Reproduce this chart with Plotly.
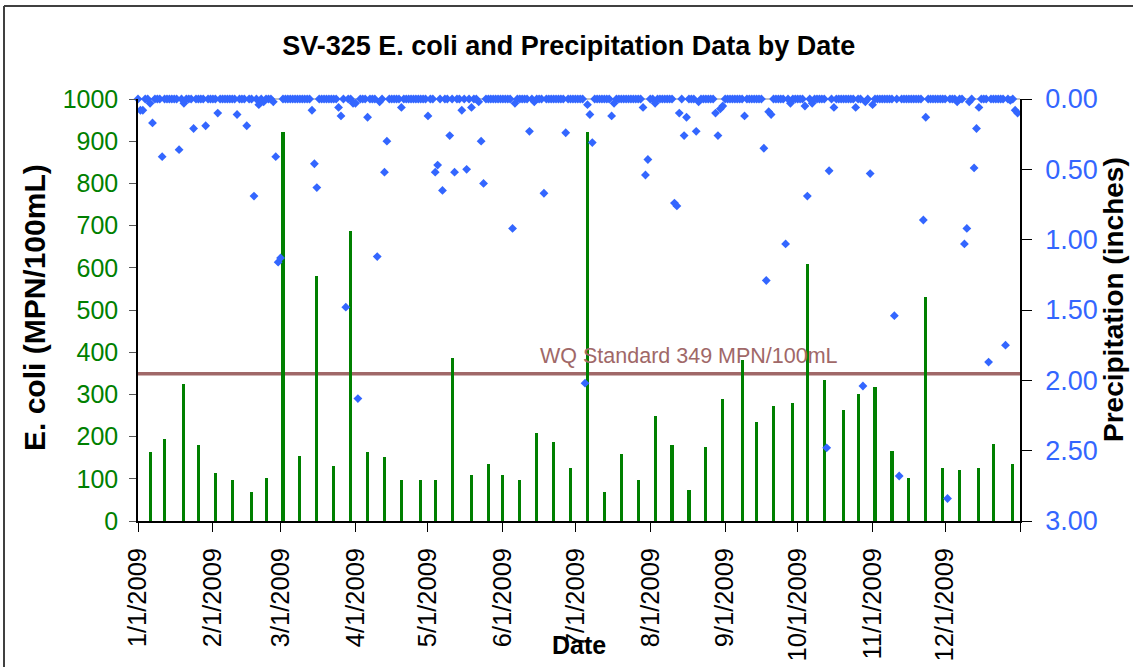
import plotly.graph_objects as go
import pandas as pd

# ---------------- data ----------------
ecoli_dates = ["2009-01-06", "2009-01-12", "2009-01-20", "2009-01-26", "2009-02-02", "2009-02-09",
               "2009-02-17", "2009-02-23", "2009-03-02", "2009-03-09", "2009-03-16", "2009-03-23",
               "2009-03-30", "2009-04-06", "2009-04-13", "2009-04-20", "2009-04-28", "2009-05-04",
               "2009-05-11", "2009-05-19", "2009-05-26", "2009-06-01", "2009-06-08", "2009-06-15",
               "2009-06-22", "2009-06-29", "2009-07-06", "2009-07-13", "2009-07-20", "2009-07-27",
               "2009-08-03", "2009-08-10", "2009-08-17", "2009-08-24", "2009-08-31", "2009-09-08",
               "2009-09-14", "2009-09-21", "2009-09-29", "2009-10-05", "2009-10-12", "2009-10-20",
               "2009-10-26", "2009-11-02", "2009-11-09", "2009-11-16", "2009-11-23", "2009-11-30",
               "2009-12-07", "2009-12-15", "2009-12-21", "2009-12-29"]
ecoli_values = [163, 195, 325, 179, 114, 98, 69, 102, 922, 155, 580, 130, 687, 163, 151, 98, 98, 98,
                387, 110, 135, 110, 98, 208, 187, 126, 922, 69, 159, 98, 249, 179, 73, 175, 289, 382,
                235, 272, 280, 609, 334, 264, 301, 317, 166, 101, 530, 125, 121, 125, 183, 134]

# days with measurable precipitation (all other days of 2009 plotted at 0.00)
precip_dates = ["2009-01-02", "2009-01-03", "2009-01-06", "2009-01-07", "2009-01-11", "2009-01-18",
                "2009-01-20", "2009-01-24", "2009-01-29", "2009-02-03", "2009-02-11", "2009-02-15",
                "2009-02-18", "2009-02-20", "2009-02-22", "2009-02-26", "2009-02-27", "2009-02-28",
                "2009-03-01", "2009-03-14", "2009-03-15", "2009-03-16", "2009-03-25", "2009-03-26",
                "2009-03-28", "2009-03-31", "2009-04-01", "2009-04-02", "2009-04-06", "2009-04-10",
                "2009-04-11", "2009-04-13", "2009-04-14", "2009-04-20", "2009-05-01", "2009-05-04",
                "2009-05-05", "2009-05-07", "2009-05-10", "2009-05-12", "2009-05-15", "2009-05-17",
                "2009-05-19", "2009-05-22", "2009-05-23", "2009-05-24", "2009-06-05", "2009-06-06",
                "2009-06-12", "2009-06-14", "2009-06-18", "2009-06-27", "2009-07-05", "2009-07-06",
                "2009-07-07", "2009-07-08", "2009-07-16", "2009-07-17", "2009-07-29", "2009-07-30",
                "2009-07-31", "2009-08-03", "2009-08-11", "2009-08-12", "2009-08-13", "2009-08-15",
                "2009-08-16", "2009-08-20", "2009-08-21", "2009-08-28", "2009-08-29", "2009-08-30",
                "2009-08-31", "2009-09-09", "2009-09-17", "2009-09-18", "2009-09-19", "2009-09-20",
                "2009-09-26", "2009-09-28", "2009-10-04", "2009-10-05", "2009-10-07", "2009-10-13",
                "2009-10-14", "2009-10-16", "2009-10-25", "2009-10-28", "2009-10-29", "2009-10-31",
                "2009-11-01", "2009-11-10", "2009-11-12", "2009-11-22", "2009-11-23", "2009-12-02",
                "2009-12-06", "2009-12-09", "2009-12-10", "2009-12-11", "2009-12-13", "2009-12-14",
                "2009-12-15", "2009-12-19", "2009-12-26", "2009-12-28", "2009-12-30", "2009-12-31"]
precip_values = [0.08, 0.08, 0.03, 0.17, 0.41, 0.36,
                 0.03, 0.21, 0.19, 0.10, 0.11, 0.19,
                 0.69, 0.04, 0.02, 0.02, 0.41, 1.16,
                 1.13, 0.08, 0.46, 0.63, 0.06, 0.12,
                 1.48, 0.03, 0.03, 2.13, 0.13, 1.12,
                 0.02, 0.52, 0.30, 0.06, 0.12, 0.52,
                 0.47, 0.65, 0.26, 0.52, 0.08, 0.50,
                 0.06, 0.02, 0.30, 0.60, 0.92, 0.03,
                 0.23, 0.02, 0.67, 0.24, 2.02, 0.04,
                 0.11, 0.31, 0.12, 0.03, 0.06, 0.54,
                 0.43, 0.03, 0.74, 0.76, 0.10, 0.26,
                 0.13, 0.23, 0.02, 0.10, 0.26, 0.07,
                 0.05, 0.12, 0.35, 1.29, 0.09, 0.11,
                 1.03, 0.03, 0.05, 0.69, 0.03, 2.48,
                 0.51, 0.06, 0.06, 2.04, 0.02, 0.53,
                 0.04, 1.54, 2.68, 0.86, 0.13, 2.84,
                 0.02, 1.03, 0.92, 0.02, 0.49, 0.21,
                 0.06, 1.87, 1.75, 0.01, 0.08, 0.10]

wq_standard = 349
wq_label = "WQ Standard 349 MPN/100mL"

month_ticks = ["2009-01-01", "2009-02-01", "2009-03-01", "2009-04-01", "2009-05-01", "2009-06-01",
               "2009-07-01", "2009-08-01", "2009-09-01", "2009-10-01", "2009-11-01", "2009-12-01",
               "2010-01-01"]
month_labels = ["1/1/2009", "2/1/2009", "3/1/2009", "4/1/2009", "5/1/2009", "6/1/2009",
                "7/1/2009", "8/1/2009", "9/1/2009", "10/1/2009", "11/1/2009", "12/1/2009", ""]

left_ticks = [0, 100, 200, 300, 400, 500, 600, 700, 800, 900, 1000]
right_ticks = [0, 0.5, 1.0, 1.5, 2.0, 2.5, 3.0]

# daily precipitation series for 2009
lookup = dict(zip(precip_dates, precip_values))
all_days = [d.strftime("%Y-%m-%d") for d in pd.date_range("2009-01-01", "2009-12-31", freq="D")]
precip_daily = [lookup.get(d, 0.0) for d in all_days]

FONT = "Liberation Sans, Arial, sans-serif"
GREEN = "#008000"
BLUE = "#3366FF"
WQ = "#A06868"
DAY_MS = 86400000

fig = go.Figure()
fig.add_trace(go.Bar(
    x=ecoli_dates, y=ecoli_values, name="E. coli",
    marker=dict(color=GREEN, line=dict(width=0)),
    width=[1.3 * DAY_MS] * len(ecoli_dates),
    yaxis="y",
))
fig.add_trace(go.Scatter(
    x=all_days, y=precip_daily, name="Precipitation", mode="markers",
    marker=dict(symbol="diamond", size=6.8, color=BLUE, line=dict(width=0)),
    yaxis="y2", cliponaxis=False,
))

fig.update_layout(
    width=1133, height=667,
    margin=dict(l=138, r=113, t=99, b=146),
    paper_bgcolor="white", plot_bgcolor="white",
    showlegend=False,
    font=dict(family=FONT, color="black"),
    title=dict(text="<b>SV-325 E. coli and Precipitation Data by Date</b>",
               x=0.502, xref="container", xanchor="center",
               y=1 - 46 / 667, yref="container", yanchor="middle",
               font=dict(size=27, family=FONT, color="black")),
    bargap=0,
    xaxis=dict(
        type="date", range=["2009-01-01", "2010-01-01"],
        tickmode="array", tickvals=month_ticks, ticktext=month_labels,
        tickangle=-90, tickfont=dict(size=25.5, family=FONT, color="black"),
        ticks="outside", ticklen=9, tickcolor="black", tickwidth=1,
        showline=True, linecolor="black", linewidth=1.5,
        showgrid=False, zeroline=False, ticklabelstandoff=6, automargin=False,
    ),
    yaxis=dict(
        range=[0, 1000], tickmode="array", tickvals=left_ticks,
        tickfont=dict(size=25, family=FONT, color=GREEN),
        ticks="outside", ticklen=7, tickcolor="#555555",
        showline=True, linecolor="black", linewidth=1.5,
        showgrid=False, zeroline=False, ticklabelstandoff=6, automargin=False,
    ),
    yaxis2=dict(
        range=[3, 0], overlaying="y", side="right", tickmode="array",
        tickvals=right_ticks, tickformat=".2f",
        tickfont=dict(size=27, family=FONT, color=BLUE),
        ticks="outside", ticklen=10, tickcolor="black",
        showline=True, linecolor="black", linewidth=1.5,
        showgrid=False, zeroline=False, ticklabelstandoff=8, automargin=False,
    ),
)

# WQ standard line
fig.add_shape(type="line", xref="paper", x0=0, x1=1, yref="y", y0=wq_standard, y1=wq_standard,
              line=dict(color=WQ, width=3.5), layer="below")
# top border of plot area
fig.add_shape(type="line", xref="paper", x0=0, x1=1, yref="paper", y0=1, y1=1,
              line=dict(color="#888888", width=1), layer="below")
# chart area border
fig.add_shape(type="line", xref="paper", x0=(4 - 138) / 882, x1=(1140 - 138) / 882,
              yref="paper", y0=(521 - 6) / 422, y1=(521 - 6) / 422,
              line=dict(color="#404040", width=2))
fig.add_shape(type="line", xref="paper", x0=(4 - 138) / 882, x1=(4 - 138) / 882,
              yref="paper", y0=(521 - 6) / 422, y1=(521 - 680) / 422,
              line=dict(color="#404040", width=2))

fig.add_annotation(text=wq_label, xref="paper", x=(538 - 138) / 882, xanchor="left",
                   yref="y", y=(521 - 356) / 0.422, yanchor="middle", showarrow=False,
                   font=dict(size=21.5, family=FONT, color=WQ))
fig.add_annotation(text="<b>E. coli (MPN/100mL)</b>", xref="paper", x=(34 - 138) / 882,
                   xanchor="center", yref="paper", y=(521 - 308) / 422, yanchor="middle",
                   textangle=-90, showarrow=False,
                   font=dict(size=30, family=FONT, color="black"))
fig.add_annotation(text="<b>Precipitation (inches)</b>", xref="paper", x=(1113 - 138) / 882,
                   xanchor="center", yref="paper", y=(521 - 300) / 422, yanchor="middle",
                   textangle=-90, showarrow=False,
                   font=dict(size=28, family=FONT, color="black"))
fig.add_annotation(text="<b>Date</b>", xref="paper", x=(579 - 138) / 882, xanchor="center",
                   yref="paper", y=(521 - 645) / 422, yanchor="middle", showarrow=False,
                   font=dict(size=25, family=FONT, color="black"))

fig.write_html("out.html", config={"displayModeBar": False},
               post_script="document.body.style.margin='0px';document.body.style.overflow='hidden';")
